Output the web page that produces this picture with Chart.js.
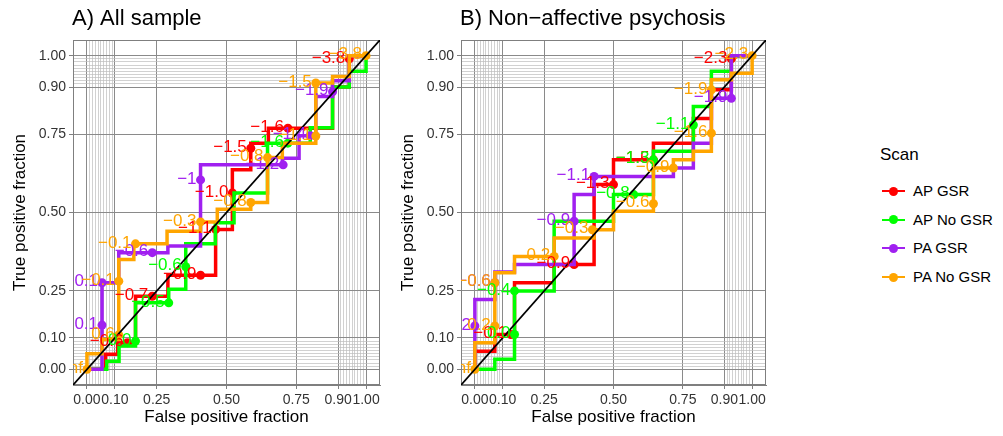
<!DOCTYPE html>
<html>
<head>
<meta charset="utf-8">
<script src="https://cdn.jsdelivr.net/npm/chart.js@4.4.1/dist/chart.umd.min.js"></script>
<style>
  body { margin: 0; background: #fff; font-family: "Liberation Sans", Arial, Helvetica, sans-serif; }
  #page { position: relative; width: 1003px; height: 436px; overflow: hidden; background: #fff; }
  .panel { position: absolute; top: 0; }
  #legend { position: absolute; left: 0; top: 0; }
  .ltitle { position: absolute; left: 880px; top: 145px; font-size: 17px; color: #000; }
  .litem { position: absolute; left: 913px; font-size: 15px; color: #000; line-height: 18px; white-space: nowrap; }
  .lline { position: absolute; left: 882px; width: 23px; height: 2px; }
  .ldot { position: absolute; left: 889px; width: 9px; height: 9px; border-radius: 50%; }
</style>
</head>
<body>
<div id="page">
  <canvas class="panel" id="chartA" width="390" height="436" style="left:0px"></canvas>
  <canvas class="panel" id="chartB" width="390" height="436" style="left:388px"></canvas>
  <div id="legend"></div>
</div>
<script>
const scanNames = ['AP GSR', 'AP No GSR', 'PA GSR', 'PA No GSR'];
const scanColors = ['#FF0000', '#00FF00', '#A020F0', '#FFA500'];
const axisBreaks = [0, 0.1, 0.25, 0.5, 0.75, 0.9, 1];

// A) All sample - ROC steps
const allApGsrFpf = [0, 0.067, 0.067, 0.11, 0.11, 0.174, 0.174, 0.29, 0.29, 0.461, 0.461, 0.521, 0.521, 0.587, 0.587, 0.65, 0.65, 0.88, 0.88, 0.94, 0.94, 1];
const allApGsrTpf = [0, 0, 0.048, 0.048, 0.085, 0.085, 0.233, 0.233, 0.30, 0.30, 0.446, 0.446, 0.636, 0.636, 0.721, 0.721, 0.769, 0.769, 0.90, 0.90, 1, 1];
const allApNoGsrFpf = [0, 0.071, 0.071, 0.115, 0.115, 0.174, 0.174, 0.293, 0.293, 0.354, 0.354, 0.46, 0.46, 0.527, 0.527, 0.647, 0.647, 0.80, 0.80, 0.88, 0.88, 0.94, 0.94, 1, 1];
const allApNoGsrTpf = [0, 0, 0.026, 0.026, 0.074, 0.074, 0.212, 0.212, 0.255, 0.255, 0.40, 0.40, 0.467, 0.467, 0.562, 0.562, 0.721, 0.721, 0.77, 0.77, 0.90, 0.90, 0.95, 0.95, 1];
const allPaGsrFpf = [0, 0.054, 0.054, 0.114, 0.114, 0.29, 0.29, 0.407, 0.407, 0.70, 0.70, 0.76, 0.76, 0.82, 0.82, 0.88, 0.88, 0.94, 0.94, 1];
const allPaGsrTpf = [0, 0, 0.276, 0.276, 0.372, 0.372, 0.393, 0.393, 0.652, 0.652, 0.673, 0.673, 0.745, 0.745, 0.87, 0.87, 0.92, 0.92, 1, 1];
const allPaNoGsrFpf = [0, 0, 0.054, 0.054, 0.114, 0.114, 0.168, 0.168, 0.287, 0.287, 0.407, 0.407, 0.467, 0.467, 0.587, 0.587, 0.647, 0.647, 0.70, 0.70, 0.82, 0.82, 0.88, 0.88, 0.94, 0.94, 1];
const allPaNoGsrTpf = [0, 0.05, 0.05, 0.095, 0.095, 0.35, 0.35, 0.40, 0.40, 0.44, 0.44, 0.47, 0.47, 0.51, 0.51, 0.532, 0.532, 0.675, 0.675, 0.721, 0.721, 0.913, 0.913, 0.934, 0.934, 1, 1];

// A) All sample - labelled cutoffs
const allApGsrCutFpf = [0.145, 0.234, 0.407, 0.461, 0.521, 0.587, 0.72, 0.94];
const allApGsrCutTpf = [0.085, 0.233, 0.30, 0.446, 0.562, 0.705, 0.769, 0.99];
const allApGsrCutLabel = ['−0.6', '−0.7', '−0.9', '−1.1', '−1.0', '−1.5', '−1.6', '−3.8'];
const allApNoGsrCutFpf = [0.174, 0.293, 0.354, 0.72];
const allApNoGsrCutTpf = [0.09, 0.212, 0.327, 0.721];
const allApNoGsrCutLabel = ['0.0', '−0.5', '−0.6', '−1.6'];
const allPaGsrCutFpf = [0.054, 0.054, 0.234, 0.407, 0.703, 0.80, 0.88];
const allPaGsrCutTpf = [0.141, 0.276, 0.372, 0.604, 0.652, 0.745, 0.885];
const allPaGsrCutLabel = ['0.1', '−0.1', '−0.6', '−1', '−1.2', '−1.4', '−1.9'];
const allPaNoGsrCutFpf = [0, 0.114, 0.114, 0.174, 0.407, 0.587, 0.647, 0.82, 0.82, 1];
const allPaNoGsrCutTpf = [0, 0.11, 0.281, 0.40, 0.47, 0.532, 0.675, 0.744, 0.913, 1];
const allPaNoGsrCutLabel = ['Inf', '0.6', '−0.1', '−0.1', '−0.3', '−0.8', '−0.8', '−1.1', '−1.5', '−3.8'];

// B) Non-affective psychosis - ROC steps
const napApGsrFpf = [0, 0, 0.072, 0.072, 0.143, 0.143, 0.286, 0.286, 0.43, 0.43, 0.50, 0.50, 0.644, 0.644, 0.788, 0.788, 0.853, 0.853, 0.925, 0.925, 1];
const napApGsrTpf = [0, 0.058, 0.058, 0.111, 0.111, 0.276, 0.276, 0.334, 0.334, 0.589, 0.589, 0.668, 0.668, 0.721, 0.721, 0.80, 0.80, 0.891, 0.891, 1, 1];
const napApNoGsrFpf = [0, 0.072, 0.072, 0.143, 0.143, 0.286, 0.286, 0.50, 0.50, 0.644, 0.644, 0.788, 0.788, 0.853, 0.853, 0.925, 0.925, 1];
const napApNoGsrTpf = [0, 0, 0.032, 0.032, 0.25, 0.25, 0.472, 0.472, 0.557, 0.557, 0.695, 0.695, 0.838, 0.838, 0.95, 0.95, 1, 1];
const napPaGsrFpf = [0, 0, 0.072, 0.072, 0.143, 0.143, 0.358, 0.358, 0.43, 0.43, 0.716, 0.716, 0.788, 0.788, 0.853, 0.853, 0.925, 0.925, 1];
const napPaGsrTpf = [0, 0.223, 0.223, 0.31, 0.31, 0.334, 0.334, 0.557, 0.557, 0.615, 0.615, 0.642, 0.642, 0.721, 0.721, 0.864, 0.864, 1, 1];
const napPaNoGsrFpf = [0, 0, 0.072, 0.072, 0.143, 0.143, 0.286, 0.286, 0.43, 0.43, 0.50, 0.50, 0.644, 0.644, 0.716, 0.716, 0.788, 0.788, 0.853, 0.853, 0.925, 0.925, 1, 1];
const napPaNoGsrTpf = [0, 0.085, 0.085, 0.308, 0.308, 0.36, 0.36, 0.419, 0.419, 0.445, 0.445, 0.504, 0.504, 0.642, 0.642, 0.668, 0.668, 0.695, 0.695, 0.923, 0.923, 0.944, 0.944, 1];

// B) Non-affective psychosis - labelled cutoffs
const napApGsrCutFpf = [0.13, 0.358, 0.50, 0.644, 0.925];
const napApGsrCutTpf = [0.111, 0.334, 0.589, 0.668, 0.99];
const napApGsrCutLabel = ['−0.1', '−0.9', '−1.3', '−1.5', '−2.3'];
const napApNoGsrCutFpf = [0.143, 0.143, 0.573, 0.644, 0.788];
const napApNoGsrCutTpf = [0.111, 0.25, 0.557, 0.668, 0.779];
const napApNoGsrCutLabel = ['0.0', '−0.4', '−0.8', '−1.3', '−1.1'];
const napPaGsrCutFpf = [0, 0.072, 0.358, 0.43, 0.925];
const napPaGsrCutTpf = [0.138, 0.276, 0.472, 0.615, 0.864];
const napPaGsrCutLabel = ['−0.2', '−0.6', '−0.9', '−1.1', '−1.9'];
const napPaNoGsrCutFpf = [0, 0.072, 0.072, 0.286, 0.424, 0.644, 0.716, 0.853, 0.853, 1];
const napPaNoGsrCutTpf = [0, 0.138, 0.276, 0.36, 0.445, 0.528, 0.642, 0.753, 0.891, 1];
const napPaNoGsrCutLabel = ['Inf', '0.2', '−0.6', '0.2', '−0.3', '−0.6', '−0.9', '−1.6', '−1.9', '−2.3'];

const FONT = '"Liberation Sans", Arial, Helvetica, sans-serif';

function toXY(xs, ys) {
    return xs.map((x, i) => ({ x: x, y: ys[i] }));
}

function isBreak(v) {
    return axisBreaks.some(b => Math.abs(b - v) < 1e-6);
}

// major breaks plus the 0.01 minor lines near both ends
const gridValues = axisBreaks.slice();
for (let k = 1; k < 10; k++) {
    gridValues.push(k / 100, 0.9 + k / 100);
}
gridValues.sort((a, b) => a - b);

const panelDecor = {
    id: 'panelDecor',
    beforeDatasetsDraw(chart) {
        const { ctx, chartArea } = chart;
        ctx.save();
        ctx.strokeStyle = '#7f7f7f';
        ctx.lineWidth = 1;
        ctx.strokeRect(chartArea.left + 0.5, chartArea.top + 0.5, chartArea.width - 1, chartArea.height - 1);
        ctx.restore();
    },
    afterDatasetsDraw(chart) {
        const { ctx, chartArea, scales } = chart;
        ctx.save();
        ctx.beginPath();
        ctx.rect(chartArea.left, chartArea.top, chartArea.width, chartArea.height);
        ctx.clip();
        ctx.font = '17px ' + FONT;
        ctx.textAlign = 'right';
        ctx.textBaseline = 'middle';
        chart.data.datasets.forEach(ds => {
            if (!ds.cutoffs) return;
            ctx.fillStyle = ds.backgroundColor;
            ds.data.forEach((p, i) => {
                ctx.fillText(ds.cutoffs[i], scales.x.getPixelForValue(p.x) - 4, scales.y.getPixelForValue(p.y) - 1);
            });
        });
        ctx.restore();
    },
    afterDraw(chart) {
        const { ctx, chartArea } = chart;
        ctx.save();
        ctx.font = '22px ' + FONT;
        ctx.fillStyle = '#000';
        ctx.textAlign = 'left';
        ctx.textBaseline = 'middle';
        ctx.fillText(chart.options.panelTitle, chartArea.left - 1, 19);
        ctx.restore();
    }
};

function axis(titleText, horizontal, size) {
    return {
        type: 'linear',
        min: -0.05,
        max: 1.05,
        afterBuildTicks: s => { s.ticks = gridValues.map(v => ({ value: v })); },
        afterFit: s => { if (horizontal) s.height = size; else s.width = size; },
        ticks: {
            autoSkip: false,
            maxRotation: 0,
            padding: 3,
            color: '#333',
            font: { family: FONT, size: 14 },
            callback: v => isBreak(v) ? v.toFixed(2) : ''
        },
        grid: {
            color: c => isBreak(c.tick.value) ? '#8a8a8a' : '#bdbdbd',
            lineWidth: c => isBreak(c.tick.value) ? 1 : 0.7,
            tickLength: 4,
            tickColor: c => isBreak(c.tick.value) ? '#7f7f7f' : 'rgba(0,0,0,0)'
        },
        border: { color: '#7f7f7f' },
        title: {
            display: true,
            text: titleText,
            color: '#000',
            font: { family: FONT, size: 17 },
            padding: horizontal ? { top: 0, bottom: 8 } : { top: 10, bottom: 0 }
        }
    };
}

function buildPanel(canvasId, title, curves, yWidth, rightPad) {
    const datasets = [{
        data: [{ x: -0.05, y: -0.05 }, { x: 1.05, y: 1.05 }],
        borderColor: '#000',
        borderWidth: 1.8,
        pointRadius: 0,
        showLine: true,
        order: 0
    }];
    curves.forEach((c, i) => {
        datasets.push({
            label: scanNames[i],
            data: toXY(c.fpf, c.tpf),
            borderColor: scanColors[i],
            borderWidth: 3.5,
            pointRadius: 0,
            showLine: true,
            borderJoinStyle: 'miter',
            order: 10 - 2 * i
        });
        datasets.push({
            label: scanNames[i] + ' cutoffs',
            data: toXY(c.cutFpf, c.cutTpf),
            cutoffs: c.cutLabel,
            backgroundColor: scanColors[i],
            borderWidth: 0,
            pointRadius: 4.5,
            showLine: false,
            order: 9 - 2 * i
        });
    });
    return new Chart(document.getElementById(canvasId), {
        type: 'scatter',
        data: { datasets: datasets },
        options: {
            panelTitle: title,
            responsive: false,
            animation: false,
            devicePixelRatio: 1,
            layout: { padding: { top: 40, right: rightPad, left: 0, bottom: 0 } },
            plugins: { legend: { display: false }, tooltip: { enabled: false } },
            scales: {
                x: axis('False positive fraction', true, 51),
                y: axis('True positive fraction', false, yWidth)
            }
        },
        plugins: [panelDecor]
    });
}

buildPanel('chartA', 'A) All sample', [
    { fpf: allApGsrFpf, tpf: allApGsrTpf, cutFpf: allApGsrCutFpf, cutTpf: allApGsrCutTpf, cutLabel: allApGsrCutLabel },
    { fpf: allApNoGsrFpf, tpf: allApNoGsrTpf, cutFpf: allApNoGsrCutFpf, cutTpf: allApNoGsrCutTpf, cutLabel: allApNoGsrCutLabel },
    { fpf: allPaGsrFpf, tpf: allPaGsrTpf, cutFpf: allPaGsrCutFpf, cutTpf: allPaGsrCutTpf, cutLabel: allPaGsrCutLabel },
    { fpf: allPaNoGsrFpf, tpf: allPaNoGsrTpf, cutFpf: allPaNoGsrCutFpf, cutTpf: allPaNoGsrCutTpf, cutLabel: allPaNoGsrCutLabel }
], 73, 10);

buildPanel('chartB', 'B) Non\u2212affective psychosis', [
    { fpf: napApGsrFpf, tpf: napApGsrTpf, cutFpf: napApGsrCutFpf, cutTpf: napApGsrCutTpf, cutLabel: napApGsrCutLabel },
    { fpf: napApNoGsrFpf, tpf: napApNoGsrTpf, cutFpf: napApNoGsrCutFpf, cutTpf: napApNoGsrCutTpf, cutLabel: napApNoGsrCutLabel },
    { fpf: napPaGsrFpf, tpf: napPaGsrTpf, cutFpf: napPaGsrCutFpf, cutTpf: napPaGsrCutTpf, cutLabel: napPaGsrCutLabel },
    { fpf: napPaNoGsrFpf, tpf: napPaNoGsrTpf, cutFpf: napPaNoGsrCutFpf, cutTpf: napPaNoGsrCutTpf, cutLabel: napPaNoGsrCutLabel }
], 73, 12);

// legend
const legend = document.getElementById('legend');
let html = '<div class="ltitle">Scan</div>';
scanNames.forEach((name, i) => {
    const y = 191 + i * 28.7;
    html += '<div class="lline" style="top:' + (y - 1) + 'px;background:' + scanColors[i] + '"></div>';
    html += '<div class="ldot" style="top:' + (y - 4.5) + 'px;background:' + scanColors[i] + '"></div>';
    html += '<div class="litem" style="top:' + (y - 9) + 'px">' + name + '</div>';
});
legend.innerHTML = html;
</script>
</body>
</html>
